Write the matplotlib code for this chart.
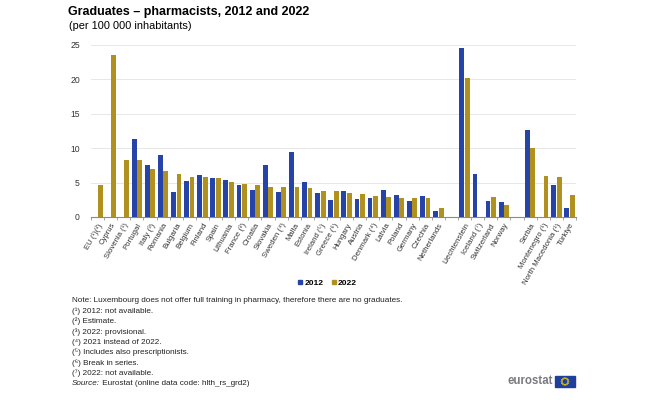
import numpy as np
import matplotlib
matplotlib.use("Agg")
import matplotlib.pyplot as plt
from matplotlib.patches import Rectangle, Circle
from matplotlib.lines import Line2D

plt.rcParams['font.family'] = ['Liberation Sans', 'DejaVu Sans']

categories = ["EU (¹)(²)", "Cyprus", "Slovenia (¹)", "Portugal", "Italy (³)", "Romania",
              "Bulgaria", "Belgium", "Finland", "Spain", "Lithuania", "France (²)",
              "Croatia", "Slovakia", "Sweden (⁴)", "Malta", "Estonia", "Ireland (⁵)",
              "Greece (⁶)", "Hungary", "Austria", "Denmark (⁴)", "Latvia", "Poland",
              "Germany", "Czechia", "Netherlands", "",
              "Liechtenstein", "Iceland (⁷)", "Switzerland", "Norway", "",
              "Serbia", "Montenegro (¹)", "North Macedonia (¹)", "Türkiye"]
nan = np.nan
v2012 = [nan, nan, nan, 11.4, 7.6, 9.0, 3.7, 5.25, 6.15, 5.6, 5.4, 4.65,
         3.9, 7.5, 3.6, 9.5, 5.15, 3.45, 2.45, 3.75, 2.6, 2.7, 3.9, 3.15,
         2.3, 3.0, 0.9, nan,
         24.5, 6.2, 2.3, 2.15, nan,
         12.7, nan, 4.6, 1.25]
v2022 = [4.6, 23.6, 8.35, 8.3, 7.0, 6.75, 6.2, 5.8, 5.8, 5.7, 5.05, 4.8,
         4.6, 4.4, 4.3, 4.3, 4.2, 3.8, 3.75, 3.45, 3.4, 3.0, 2.85, 2.8,
         2.8, 2.7, 1.25, nan,
         20.2, nan, 2.9, 1.7, nan,
         10.05, 5.9, 5.8, 3.15]
series_labels = ["2012", "2022"]
yticks = [0, 5, 10, 15, 20, 25]

title = "Graduates – pharmacists, 2012 and 2022"
subtitle = "(per 100 000 inhabitants)"
notes = ["Note: Luxembourg does not offer full training in pharmacy, therefore there are no graduates.",
         "(¹) 2012: not available.",
         "(²) Estimate.",
         "(³) 2022: provisional.",
         "(⁴) 2021 instead of 2022.",
         "(⁵) Includes also prescriptionists.",
         "(⁶) Break in series.",
         "(⁷) 2022: not available."]
source_it = "Source:"
source_rest = " Eurostat (online data code: hlth_rs_grd2)"

c2012 = "#2644A7"
c2022 = "#B09120"

W, H = 652, 408
fig = plt.figure(figsize=(W / 100, H / 100), dpi=100)
ax = fig.add_axes([91 / W, 1 - 217 / H, (576 - 91) / W, (217 - 45) / H])

x = np.arange(len(categories))
bw = 0.37
ax.bar(x - 0.21, v2012, width=bw, color=c2012, zorder=3)
ax.bar(x + 0.21, v2022, width=bw, color=c2022, zorder=3)

ax.set_xlim(-0.5, len(categories) - 0.5)
ax.set_ylim(0, 25)
ax.set_yticks(yticks)
ax.set_yticklabels([str(t) for t in yticks], fontsize=6.2, color="#333333")
ax.tick_params(axis='y', length=0, pad=8)
ax.yaxis.grid(True, color="#e3e3e3", linewidth=0.6, zorder=0)
ax.set_axisbelow(True)

ax.set_xticks(x)
ax.set_xticklabels(categories, rotation=60, ha='right', rotation_mode='anchor',
                   fontsize=5.6, color="#333333")
ax.tick_params(axis='x', which='major', length=0, pad=3.5)
ax.set_xticks(np.arange(-0.5, len(categories), 1.0), minor=True)
ax.tick_params(axis='x', which='minor', length=2.5, color="#999999", width=0.6)

for s in ['top', 'right', 'left']:
    ax.spines[s].set_visible(False)
ax.spines['bottom'].set_color("#8a8a8a")
ax.spines['bottom'].set_linewidth(0.8)

fig.text(68 / W, 1 - 12 / H, title, fontsize=9.0, fontweight='bold', va='center', ha='left')
fig.text(69 / W, 1 - 26 / H, subtitle, fontsize=7.9, va='center', ha='left')

handles = [Line2D([], [], marker='s', linestyle='none', color=c, markersize=3.5)
           for c in (c2012, c2022)]
leg = fig.legend(handles, series_labels, loc='center', bbox_to_anchor=(327 / W, 1 - 283 / H),
                 ncol=2, frameon=False, fontsize=6, handletextpad=0.1, columnspacing=0.8,
                 handlelength=0.8)
for t in leg.get_texts():
    t.set_fontweight('bold')

y0 = 301
step = 10.3
for i, line in enumerate(notes):
    fig.text(72 / W, 1 - (y0 + i * step) / H, line, fontsize=5.9, va='center', ha='left', color="#222222")
ys = 1 - (y0 + len(notes) * step) / H
t1 = fig.text(72 / W, ys, source_it, fontsize=5.9, va='center', ha='left', style='italic', color="#222222")
fig.canvas.draw()
bb = t1.get_window_extent()
fig.text(bb.x1 / W, ys, source_rest, fontsize=5.9, va='center', ha='left', color="#222222")

# eurostat logo
fig.text(553 / W, 1 - 381 / H, "eurostat", fontsize=8.3, fontweight='bold', color="#7a7a80",
         va='center', ha='right')
fx0, fy0, fw, fh = 555 / W, 1 - 387 / H, 20 / W, 11 / H
fig.patches.append(Rectangle((fx0, fy0), fw, fh, transform=fig.transFigure, color="#1f3f9a"))
cx, cy = fx0 + fw / 2, fy0 + fh / 2
for k in range(12):
    a = 2 * np.pi * k / 12
    fig.patches.append(Circle((cx + 3.3 / W * np.cos(a), cy + 3.3 / H * np.sin(a)), 0.3 / W,
                              transform=fig.transFigure, color="#ffdd00"))

fig.savefig("out.png", dpi=100)
